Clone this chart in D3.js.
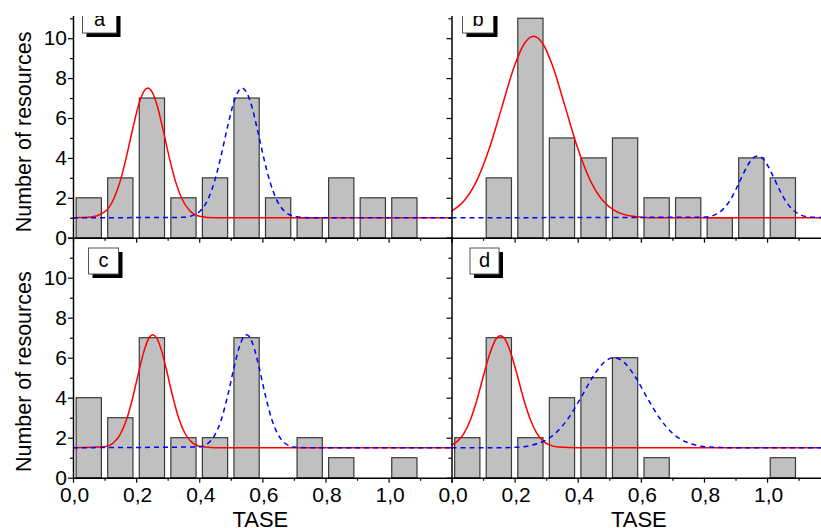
<!DOCTYPE html>
<html>
<head>
<meta charset="utf-8">
<script src="https://cdn.jsdelivr.net/npm/d3@7"></script>
<style>
  body { margin: 0; background: #fff; }
  svg { display: block; }
  text { font-family: "Liberation Sans", Arial, sans-serif; fill: #000; }
</style>
</head>
<body>
<svg id="chart" width="821" height="528"></svg>
<script>
// histogram bins (TASE), bin centres
const binCenters = [0.05, 0.15, 0.25, 0.35, 0.45, 0.55, 0.65, 0.75, 0.85, 0.95, 1.05, 1.15];
const binWidth = 0.08;

const countsA = [2, 3, 7, 2, 3, 7, 2, 1, 3, 2, 2, 0];
const countsB = [0, 3, 11, 5, 4, 5, 2, 2, 1, 4, 3, 0];
const countsC = [4, 3, 7, 2, 2, 7, 0, 2, 1, 0, 1, 0];
const countsD = [2, 7, 2, 4, 5, 6, 1, 0, 0, 0, 1, 0];

// fitted peaks, points [TASE, count]
const redA = [[0, 1.00], [0.05, 1.02], [0.1, 1.29], [0.13, 1.98], [0.15, 2.86], [0.17, 4.10], [0.19, 5.51],
  [0.21, 6.76], [0.225, 7.35], [0.237, 7.5], [0.25, 7.32], [0.265, 6.71], [0.285, 5.44], [0.305, 4.03],
  [0.325, 2.81], [0.345, 1.95], [0.37, 1.35], [0.4, 1.08], [0.45, 1.00], [1.2, 1.00]];
const blueA = [[0, 1.00], [0.35, 1.02], [0.4, 1.30], [0.43, 2.01], [0.45, 2.91], [0.47, 4.16], [0.49, 5.58],
  [0.51, 6.81], [0.525, 7.37], [0.536, 7.5], [0.55, 7.29], [0.565, 6.66], [0.585, 5.37], [0.605, 3.96],
  [0.625, 2.76], [0.645, 1.91], [0.67, 1.33], [0.7, 1.08], [0.75, 1.00], [1.2, 1.00]];

const redB = [[0, 1.33], [0.04, 1.85], [0.08, 2.86], [0.12, 4.48], [0.16, 6.57], [0.2, 8.63], [0.23, 9.71],
  [0.26, 10.1], [0.29, 9.71], [0.32, 8.63], [0.36, 6.57], [0.4, 4.48], [0.44, 2.86], [0.48, 1.85],
  [0.52, 1.33], [0.56, 1.11], [0.6, 1.03], [0.65, 1.00], [1.2, 1.00]];
const blueB = [[0, 1.00], [0.8, 1.03], [0.83, 1.12], [0.86, 1.42], [0.88, 1.81], [0.9, 2.38], [0.92, 3.05],
  [0.94, 3.67], [0.955, 3.99], [0.97, 4.10], [0.985, 3.99], [1.0, 3.67], [1.02, 3.05], [1.04, 2.38],
  [1.06, 1.81], [1.08, 1.42], [1.11, 1.12], [1.14, 1.03], [1.2, 1.00]];

const redC = [[0, 1.50], [0.1, 1.55], [0.13, 1.77], [0.15, 2.18], [0.17, 2.92], [0.19, 4.05], [0.21, 5.40],
  [0.225, 6.33], [0.24, 6.96], [0.253, 7.15], [0.265, 6.99], [0.28, 6.38], [0.295, 5.47], [0.315, 4.12],
  [0.335, 2.97], [0.355, 2.21], [0.375, 1.79], [0.4, 1.57], [0.45, 1.50], [1.2, 1.50]];
const blueC = [[0, 1.50], [0.4, 1.54], [0.43, 1.75], [0.45, 2.15], [0.47, 2.91], [0.49, 4.09], [0.51, 5.49],
  [0.525, 6.43], [0.54, 7.03], [0.55, 7.15], [0.56, 7.03], [0.575, 6.43], [0.59, 5.49], [0.61, 4.09],
  [0.63, 2.91], [0.65, 2.15], [0.67, 1.75], [0.7, 1.54], [0.75, 1.50], [1.2, 1.50]];

const redD = [[0, 1.64], [0.02, 1.84], [0.04, 2.23], [0.06, 2.90], [0.08, 3.86], [0.1, 5.02], [0.12, 6.14],
  [0.14, 6.91], [0.155, 7.10], [0.17, 6.91], [0.19, 6.14], [0.21, 5.02], [0.23, 3.86], [0.25, 2.90],
  [0.27, 2.23], [0.29, 1.84], [0.31, 1.64], [0.34, 1.53], [0.4, 1.50], [1.2, 1.50]];
const blueD = [[0, 1.50], [0.15, 1.50], [0.2, 1.52], [0.25, 1.61], [0.29, 1.81], [0.33, 2.23], [0.37, 2.97],
  [0.41, 4.00], [0.45, 5.10], [0.485, 5.79], [0.515, 6.00], [0.545, 5.79], [0.58, 5.10], [0.62, 4.00],
  [0.66, 2.97], [0.7, 2.23], [0.74, 1.81], [0.78, 1.61], [0.83, 1.52], [0.9, 1.50], [1.2, 1.50]];

const xMajor = [0, 0.2, 0.4, 0.6, 0.8, 1.0, 1.2];
const xMinor = [0.1, 0.3, 0.5, 0.7, 0.9, 1.1];
const xLabelled = [0, 0.2, 0.4, 0.6, 0.8, 1.0];
const yMajor = [0, 2, 4, 6, 8, 10, 12];
const yMinor = [1, 3, 5, 7, 9, 11];
const yLabelled = [0, 2, 4, 6, 8, 10];

const panelLetters = ["a", "b", "c", "d"];

const svg = d3.select("#chart");
const comma = d3.formatLocale({ decimal: ",", thousands: ".", grouping: [3], currency: ["", ""] }).format(".1f");

const xLeft = d3.scaleLinear().domain([0, 1.2]).range([73, 451.7]);
const xRight = d3.scaleLinear().domain([0, 1.2]).range([451.5, 830.2]);
const yTop = d3.scaleLinear().domain([0, 12]).range([237.7, -1.7]);
const yBottom = d3.scaleLinear().domain([0, 12]).range([477.7, 237.7]);

const panels = [
    { counts: countsA, red: redA, blue: blueA, x: xLeft, y: yTop, xLabels: false, yLabels: true, box: [82.5, 7, 34, 26] },
    { counts: countsB, red: redB, blue: blueB, x: xRight, y: yTop, xLabels: false, yLabels: false, box: [462.5, 7, 31, 26] },
    { counts: countsC, red: redC, blue: blueC, x: xLeft, y: yBottom, xLabels: true, yLabels: true, box: [88.5, 248, 30, 26] },
    { counts: countsD, red: redD, blue: blueD, x: xRight, y: yBottom, xLabels: true, yLabels: false, box: [470, 248, 29, 26] }
];

panels.forEach(function (p, i) {
    const g = svg.append("g");
    const x = p.x, y = p.y;

    // bars
    const bars = binCenters.map(function (c, j) { return { c: c, v: p.counts[j] }; })
        .filter(function (d) { return d.v > 0; });
    g.selectAll("rect.bar")
        .data(bars)
        .enter()
        .append("rect")
        .attr("class", "bar")
        .attr("x", function (d) { return x(d.c - binWidth / 2); })
        .attr("width", function (d) { return x(d.c + binWidth / 2) - x(d.c - binWidth / 2); })
        .attr("y", function (d) { return y(d.v); })
        .attr("height", function (d) { return y(0) - y(d.v); })
        .attr("fill", "#c0c0c0")
        .attr("stroke", "#3a3a3a")
        .attr("stroke-width", 1.2);

    const line = d3.line()
        .x(function (d) { return x(d[0]); })
        .y(function (d) { return y(d[1]); })
        .curve(d3.curveMonotoneX);

    g.append("path")
        .attr("d", line(p.red))
        .attr("fill", "none")
        .attr("stroke", "#ff0000")
        .attr("stroke-width", 1.5);

    g.append("path")
        .attr("d", line(p.blue))
        .attr("fill", "none")
        .attr("stroke", "#0000ff")
        .attr("stroke-width", 1.5)
        .attr("stroke-dasharray", "5,4");

    // axes
    const xAxis = g.append("g")
        .attr("transform", "translate(0," + y(0) + ")")
        .call(d3.axisBottom(x).tickValues(xMajor).tickSize(5).tickSizeOuter(0)
            .tickFormat(function (d) { return p.xLabels && xLabelled.indexOf(d) >= 0 ? comma(d) : ""; }));
    g.append("g")
        .attr("transform", "translate(0," + y(0) + ")")
        .call(d3.axisBottom(x).tickValues(xMinor).tickSize(3).tickFormat(""))
        .select(".domain").remove();

    const yAxis = g.append("g")
        .attr("transform", "translate(" + x(0) + ",0)")
        .call(d3.axisLeft(y).tickValues(yMajor).tickSize(5).tickSizeOuter(0)
            .tickFormat(function (d) { return p.yLabels && yLabelled.indexOf(d) >= 0 ? d : ""; }));
    g.append("g")
        .attr("transform", "translate(" + x(0) + ",0)")
        .call(d3.axisLeft(y).tickValues(yMinor).tickSize(3).tickFormat(""))
        .select(".domain").remove();

    g.selectAll(".domain").attr("stroke", "#000").attr("stroke-width", 1.5);
    g.selectAll(".tick line").attr("stroke", "#000").attr("stroke-width", 1.2);

    xAxis.selectAll(".tick text")
        .attr("font-family", "Liberation Sans, Arial, sans-serif")
        .attr("font-size", 21)
        .attr("dx", 1)
        .attr("y", 9);
    yAxis.selectAll(".tick text")
        .attr("font-family", "Liberation Sans, Arial, sans-serif")
        .attr("font-size", 21)
        .attr("x", -6);

    if (p.xLabels) {
        g.append("text")
            .attr("x", x(0.6) - 2)
            .attr("y", 527)
            .attr("text-anchor", "middle")
            .attr("font-size", 22)
            .text("TASE");
    }
    if (p.yLabels) {
        g.append("text")
            .attr("transform", "translate(31," + ((y(0) + y(11.1)) / 2 + 5) + ") rotate(-90)")
            .attr("text-anchor", "middle")
            .attr("font-size", 21.5)
            .text("Number of resources");
    }

    // panel letter box with drop shadow
    const b = p.box;
    g.append("rect")
        .attr("x", b[0] + 4).attr("y", b[1] + 4)
        .attr("width", b[2]).attr("height", b[3])
        .attr("fill", "#000");
    g.append("rect")
        .attr("x", b[0]).attr("y", b[1])
        .attr("width", b[2]).attr("height", b[3])
        .attr("fill", "#fff")
        .attr("stroke", "#555")
        .attr("stroke-width", 1);
    g.append("text")
        .attr("x", b[0] + b[2] / 2)
        .attr("y", b[1] + 19)
        .attr("text-anchor", "middle")
        .attr("font-size", 20)
        .text(panelLetters[i]);
});

// figure is cut off at the top
svg.append("rect")
    .attr("x", 0).attr("y", 0)
    .attr("width", 821).attr("height", 16)
    .attr("fill", "#fff");
</script>
</body>
</html>
